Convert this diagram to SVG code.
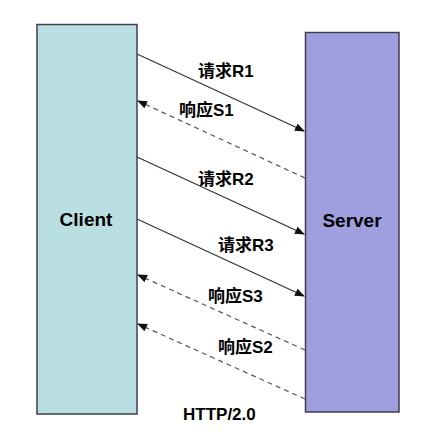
<svg xmlns="http://www.w3.org/2000/svg" width="441" height="439" viewBox="0 0 441 439">
<defs>
<style>
.box{stroke:#3f3f4f;stroke-width:1.5}
.lbl{font-family:"Liberation Sans","Noto Sans CJK SC",sans-serif;font-weight:bold;font-size:17px;fill:#000}
.node{font-family:"Liberation Sans",sans-serif;font-weight:bold;font-size:19px;fill:#000;text-anchor:middle}
.req{stroke:#333;stroke-width:1.2;fill:none;marker-end:url(#ah)}
.resp{stroke:#555;stroke-width:1.2;fill:none;stroke-dasharray:5,4;marker-end:url(#ah)}
</style>
<marker id="ah" markerWidth="10" markerHeight="8" refX="9" refY="4" orient="auto" markerUnits="userSpaceOnUse">
<path d="M0,0 L10,4 L0,8 z" fill="#111"/>
</marker>
</defs>
<rect width="441" height="439" fill="#fff"/>
<g id="client">
<rect class="box" x="37" y="24.5" width="100" height="389.5" fill="#badfe2"/>
<text class="node" x="86" y="226">Client</text>
</g>
<g id="server">
<rect class="box" x="305.5" y="32.5" width="93.5" height="379.5" fill="#9f9fdf"/>
<text class="node" x="352" y="227">Server</text>
</g>
<g id="connectors">
<line class="req" x1="137" y1="54" x2="304" y2="131"/>
<line class="resp" x1="305" y1="178" x2="138" y2="101"/>
<line class="req" x1="137" y1="157" x2="304" y2="234"/>
<line class="req" x1="137" y1="219" x2="304" y2="296"/>
<line class="resp" x1="305" y1="350" x2="138" y2="275"/>
<line class="resp" x1="305" y1="399" x2="138" y2="324"/>
</g>
<g id="labels">
<text class="lbl" x="198" y="77">请求R1</text>
<text class="lbl" x="179" y="116">响应S1</text>
<text class="lbl" x="198" y="185">请求R2</text>
<text class="lbl" x="218" y="251">请求R3</text>
<text class="lbl" x="208" y="302">响应S3</text>
<text class="lbl" x="218" y="353">响应S2</text>
<text class="lbl" x="183" y="420">HTTP/2.0</text>
</g>
</svg>
